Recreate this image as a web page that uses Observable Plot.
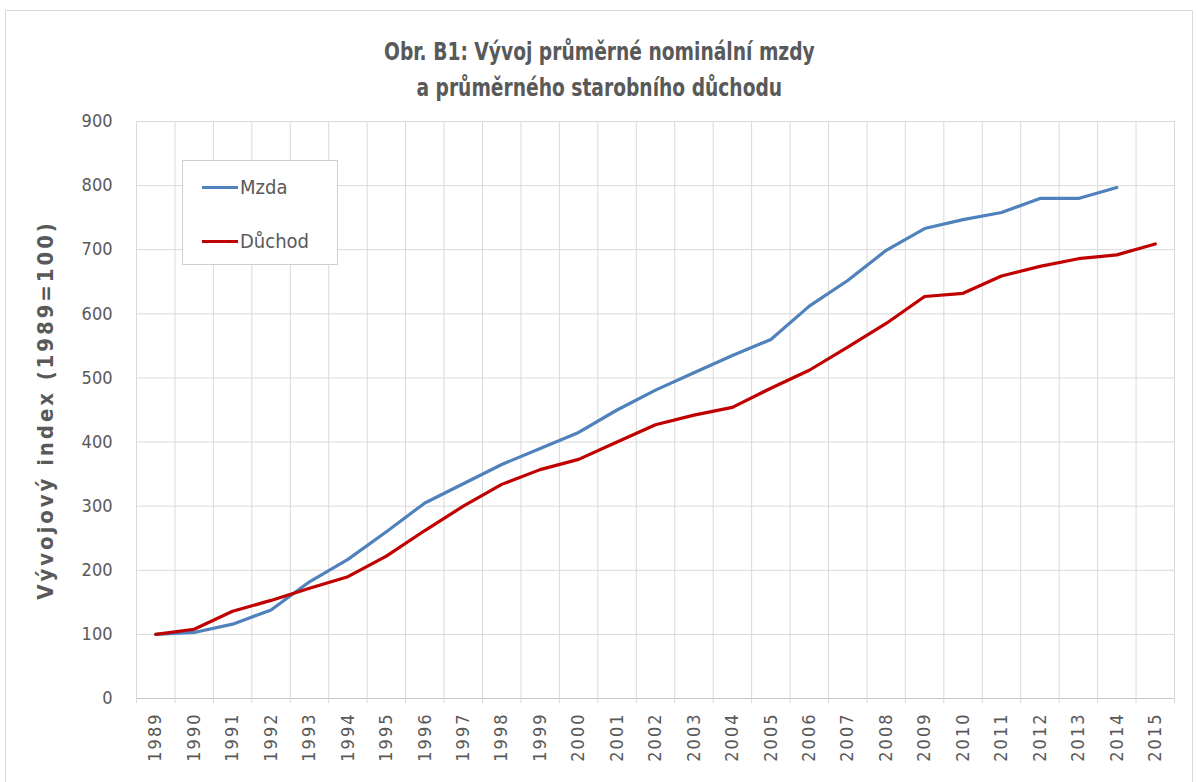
<!DOCTYPE html>
<html>
<head>
<meta charset="utf-8">
<script src="https://cdn.jsdelivr.net/npm/d3@7"></script>
<script src="https://cdn.jsdelivr.net/npm/@observablehq/plot@0.6"></script>
<style>
  body { margin: 0; background: #fff; }
  #wrap { position: relative; width: 1198px; height: 782px; overflow: hidden; font-family: "Liberation Sans Narrow", "DejaVu Sans Condensed", sans-serif; }
  #frame { position: absolute; left: 5px; top: 10px; width: 1186px; height: 800px; border: 1px solid #d9d9d9; pointer-events: none; }
  #title { height: 105px; box-sizing: border-box; padding-top: 34px; text-align: center; font-weight: bold; font-size: 25px; line-height: 36px; color: #595959; }
  #title span { display: inline-block; transform: scaleX(0.83); white-space: nowrap; }
  #legend { position: absolute; left: 182px; top: 160px; width: 156px; height: 105px; background: #fff; border: 1px solid #d0d0d0; box-sizing: border-box; }
  .item { position: absolute; left: 19px; height: 24px; display: flex; align-items: center; font-size: 20px; color: #595959; }
  .sw { width: 36px; height: 3px; margin-right: 2px; }
  svg text { fill: #595959; }
  svg [aria-label="x-axis tick label"] text { letter-spacing: 2px; }
  svg .ylab text { font-weight: bold; font-size: 22px; letter-spacing: 2.9px; }
</style>
</head>
<body>
<div id="wrap">
  <div id="frame"></div>
  <div id="title"><span>Obr. B1: Vývoj průměrné nominální mzdy</span><br><span>a průměrného starobního důchodu</span></div>
  <div id="chart"></div>
  <div id="legend"></div>
</div>
<script>
const years = [1989,1990,1991,1992,1993,1994,1995,1996,1997,1998,1999,2000,2001,2002,2003,2004,2005,2006,2007,2008,2009,2010,2011,2012,2013,2014,2015];
const mzda = [100,103,116,138,182,217,260,305,335,365,390,415,450,481,508,535,560,612,652,699,733,747,758,780,780,797];
const duchod = [100,108,136,153,172,190,222,262,300,334,357,373,400,427,442,454,484,512,548,585,627,632,659,674,686,692,709];
const yTicks = [0,100,200,300,400,500,600,700,800,900];
const seriesNames = ["Mzda", "Důchod"];
const seriesColors = ["#4f81bd", "#c00000"];
const yLabel = "Vývojový index (1989=100)";

const rows = [
  ...mzda.map((v, i) => ({year: years[i], value: v, series: seriesNames[0]})),
  ...duchod.map((v, i) => ({year: years[i], value: v, series: seriesNames[1]}))
];
const boundaries = [...years.map(y => y - 0.5), years[years.length - 1] + 0.5];

const chart = Plot.plot({
  width: 1198,
  height: 677,
  marginLeft: 136,
  marginRight: 24,
  marginTop: 16,
  marginBottom: 84,
  style: {fontFamily: '"Liberation Sans Narrow", "DejaVu Sans Condensed", sans-serif', fontSize: "18px", color: "#595959", background: "#fff"},
  x: {type: "linear", domain: [years[0] - 0.5, years[years.length - 1] + 0.5], ticks: years, tickFormat: d => `${d}`, tickRotate: -90, tickSize: 0, tickPadding: 14, label: null},
  y: {domain: [0, 900], ticks: yTicks, tickSize: 0, tickPadding: 24, label: null},
  color: {domain: seriesNames, range: seriesColors},
  marks: [
    Plot.ruleY(yTicks, {stroke: "#d9d9d9", strokeWidth: 1}),
    Plot.ruleX(boundaries, {stroke: "#d9d9d9", strokeWidth: 1, y1: 0, y2: 900}),
    Plot.ruleX(boundaries, {stroke: "#d9d9d9", strokeWidth: 1, y1: 0, y2: -8, clip: false}),
    Plot.ruleY([0], {stroke: "#c8c8c8", strokeWidth: 1}),
    Plot.line(rows, {x: "year", y: "value", z: "series", stroke: "series", strokeWidth: 3.2, strokeLinejoin: "round", strokeLinecap: "round"}),
    Plot.text([yLabel], {frameAnchor: "left", textAnchor: "middle", dx: -91, rotate: -90, text: d => d, className: "ylab"})
  ]
});
document.getElementById("chart").appendChild(chart);

const legend = document.getElementById("legend");
const tops = [14, 68];
seriesNames.forEach((name, i) => {
  const it = document.createElement("div");
  it.className = "item";
  it.style.top = tops[i] + "px";
  it.innerHTML = `<span class="sw" style="background:${seriesColors[i]}"></span><span>${name}</span>`;
  legend.appendChild(it);
});
</script>
</body>
</html>
